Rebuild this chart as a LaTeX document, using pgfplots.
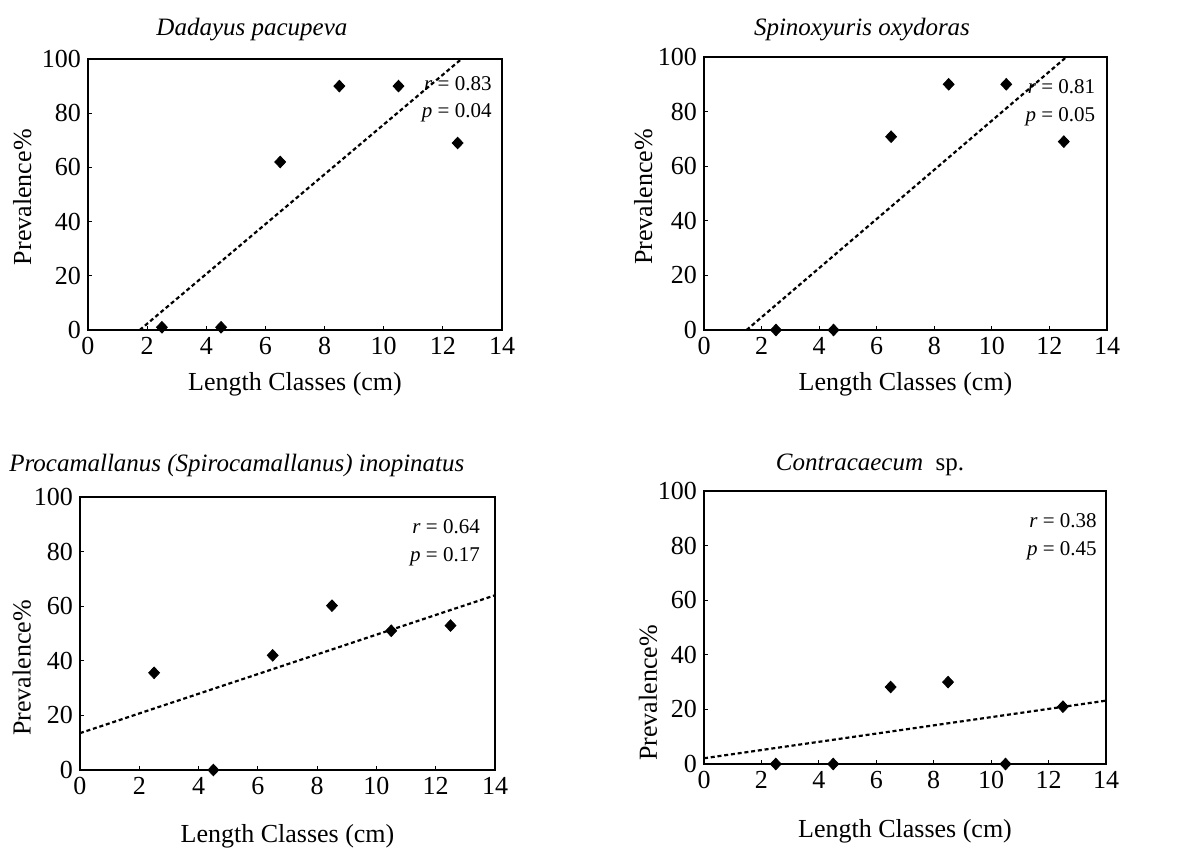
\documentclass[border=0pt]{standalone}
\usepackage{fontspec}
\setmainfont{Liberation Serif}
\usepackage{pgfplots}
\pgfplotsset{compat=1.18}

\pgfplotsset{prev/.style={scale only axis, clip=false,
  xmin=0, xmax=14, ymin=0, ymax=100,
  xtick={0,2,...,14}, ytick={0,20,...,100},
  xtick pos=bottom, ytick pos=left, tick align=inside,
  major tick length=2pt, tick style={black, line width=0.6pt},
  axis line style={line width=1.1pt},
  /pgf/number format/assume math mode=true,
  tick label style={font=\fontsize{13}{15}\selectfont},
  label style={font=\fontsize{13}{15}\selectfont},
  every axis title shift=0pt,
  title style={font=\fontsize{12.5}{14}\selectfont\itshape, anchor=center},
  xlabel={Length Classes (cm)}, ylabel={Prevalence\%}},
  pts/.style={only marks, mark=diamond*, mark size=2.9pt, black,
    mark options={xscale=1.25}},
  fit/.style={no marks, black, line width=1.1pt, dash pattern=on 2pt off 1.4pt}}
\tikzset{stat/.style={font=\fontsize{10.5}{12}\selectfont, anchor=east, inner sep=0pt}}

\begin{document}
\begin{tikzpicture}
\useasboundingbox (0,0) rectangle (589pt,424pt);

% top left
\begin{axis}[prev, at={(44pt,259pt)}, anchor=south west, width=207pt, height=135.5pt,
  title={Dadayus pacupeva}, title style={at={(axis description cs:0.396,1.107)}},
  xlabel style={at={(axis description cs:0.5,-0.2)}, anchor=center},
  ylabel style={at={(axis description cs:-0.159,0.49)}, anchor=center}]
\addplot[pts] coordinates {(2.5,1) (4.5,1) (6.5,62) (8.5,90) (10.5,90) (12.5,69)};
\addplot[fit] coordinates {(1.75,0) (12.63,100)};
\node[stat] at (axis cs:13.66,91) {\textit{r} = 0.83};
\node[stat] at (axis cs:13.66,80) {\textit{p} = 0.04};
\end{axis}

% top right
\begin{axis}[prev, at={(352pt,259pt)}, anchor=south west, width=201.5pt, height=136.5pt,
  title={Spinoxyuris oxydoras}, title style={at={(axis description cs:0.392,1.099)}},
  xlabel style={at={(axis description cs:0.5,-0.2)}, anchor=center},
  ylabel style={at={(axis description cs:-0.151,0.487)}, anchor=center}]
\addplot[pts] coordinates {(2.5,0) (4.5,0) (6.5,70.8) (8.5,90) (10.5,90) (12.5,69)};
\addplot[fit] coordinates {(1.48,0) (12.59,100)};
\node[stat] at (axis cs:13.6,89) {\textit{r} = 0.81};
\node[stat] at (axis cs:13.6,78) {\textit{p} = 0.05};
\end{axis}

% bottom left
\begin{axis}[prev, at={(40pt,39pt)}, anchor=south west, width=207.5pt, height=136.5pt,
  title={Procamallanus (Spirocamallanus) inopinatus},
  title style={at={(axis description cs:0.378,1.114)}},
  xlabel style={at={(axis description cs:0.5,-0.243)}, anchor=center},
  ylabel style={at={(axis description cs:-0.14,0.374)}, anchor=center}]
\addplot[pts] coordinates {(2.5,35.6) (4.5,0) (6.5,42) (8.5,60.2) (10.5,51) (12.5,52.9)};
\addplot[fit] coordinates {(0,13.5) (14,64)};
\node[stat] at (axis cs:13.5,89) {\textit{r} = 0.64};
\node[stat] at (axis cs:13.5,78) {\textit{p} = 0.17};
\end{axis}

% bottom right
\begin{axis}[prev, at={(352pt,42pt)}, anchor=south west, width=201pt, height=136.5pt,
  title={\textit{Contracaecum}\ \ \upshape sp.},
  title style={at={(axis description cs:0.413,1.095)}},
  xlabel style={at={(axis description cs:0.5,-0.247)}, anchor=center},
  ylabel style={at={(axis description cs:-0.139,0.26)}, anchor=center}]
\addplot[pts] coordinates {(2.5,0) (4.5,0) (6.5,28.2) (8.5,30) (10.5,0) (12.5,21)};
\addplot[fit] coordinates {(0,2.1) (14,23.2)};
\node[stat] at (axis cs:13.69,89) {\textit{r} = 0.38};
\node[stat] at (axis cs:13.69,78) {\textit{p} = 0.45};
\end{axis}
\end{tikzpicture}
\end{document}
